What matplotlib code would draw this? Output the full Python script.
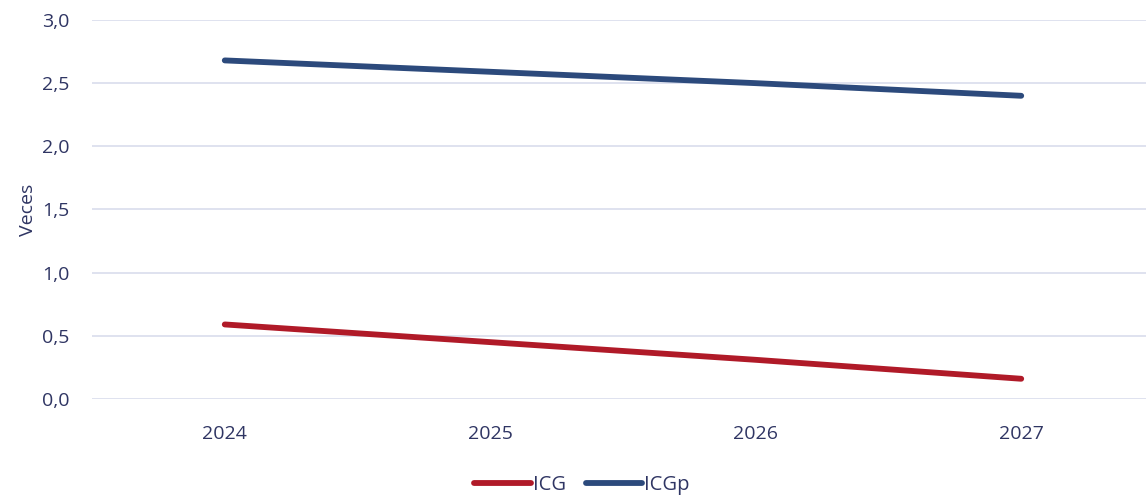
import matplotlib
matplotlib.use("Agg")
import matplotlib.pyplot as plt
from matplotlib.ticker import FuncFormatter

plt.rcParams['font.family'] = ['Open Sans', 'DejaVu Sans']

years = ['2024', '2025', '2026', '2027']
icg = [0.59, 0.45, 0.31, 0.16]
icgp = [2.68, 2.59, 2.50, 2.40]

text_color = '#2f3563'
grid_color = '#dcdfee'

fig = plt.figure(figsize=(11.46, 4.96), dpi=100)
ax = fig.add_axes([0.0803, 0.1956, 0.9197, 0.7641])

x = range(len(years))
ax.plot(x, icg, color='#b01a28', lw=4.2, solid_capstyle='round', label='ICG')
ax.plot(x, icgp, color='#2c4a7c', lw=4.2, solid_capstyle='round', label='ICGp')

ax.set_xlim(-0.5, 3.47)
ax.set_ylim(0, 3.0)
ax.set_yticks([0, 0.5, 1.0, 1.5, 2.0, 2.5, 3.0])
ax.yaxis.set_major_formatter(FuncFormatter(lambda v, p: f'{v:.1f}'.replace('.', ',')))
ax.set_xticks(list(x))
ax.set_xticklabels(years)
ax.grid(axis='y', color=grid_color, lw=1.3)
ax.set_axisbelow(True)
for s in ax.spines.values():
    s.set_visible(False)
ax.tick_params(axis='both', length=0, labelsize=14, colors=text_color)
ax.tick_params(axis='y', pad=16)
ax.tick_params(axis='x', pad=19)
ax.set_ylabel('Veces', fontsize=14, color=text_color, labelpad=4)

leg = ax.legend(loc='lower center', bbox_to_anchor=(0.465, -0.302), ncol=2, frameon=False,
                fontsize=14.5, handlelength=2.8, handletextpad=0.1, columnspacing=1.0)
for t in leg.get_texts():
    t.set_color(text_color)

fig.savefig('out.png', dpi=100)
